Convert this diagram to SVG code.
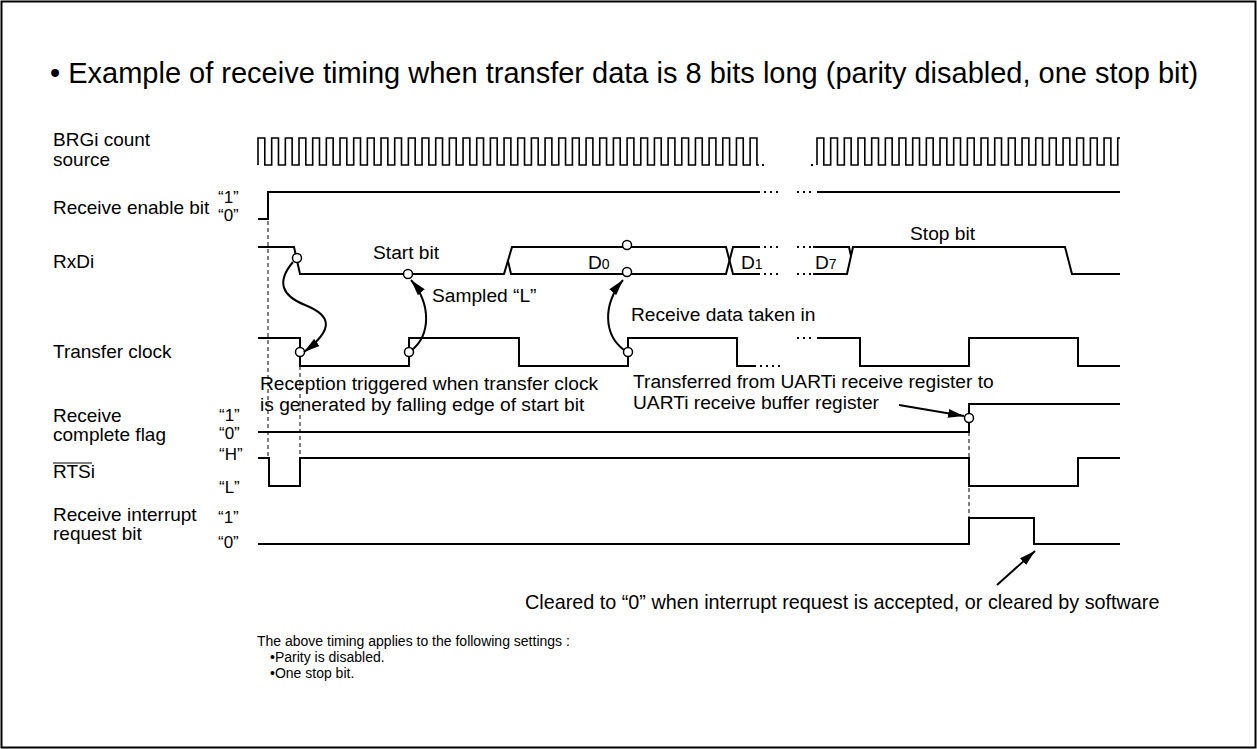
<svg xmlns="http://www.w3.org/2000/svg" width="1257" height="749" viewBox="0 0 1257 749">
<defs>
<marker id="ah" markerWidth="18" markerHeight="10" refX="16" refY="5" orient="auto" markerUnits="userSpaceOnUse" viewBox="0 0 18 10">
<path d="M0,0.5 L16,5 L0,9.5 Z" fill="#000"/>
</marker>
</defs>
<style>
text{font-family:"Liberation Sans",Arial,sans-serif;fill:#000}
.lb{font-size:19px}
.lv{font-size:17px}
.an{font-size:19.2px}
.nt{font-size:14px}
.w{fill:none;stroke:#000;stroke-width:2}
.ck{fill:none;stroke:#000;stroke-width:1.6}
.dt{fill:none;stroke:#000;stroke-width:2;stroke-dasharray:2 4}
.ds{fill:none;stroke:#000;stroke-width:1;stroke-dasharray:4 3}
.c{fill:#fff;stroke:#000;stroke-width:1.5}
.ar{fill:none;stroke:#000;stroke-width:2;marker-end:url(#ah)}
</style>
<rect x="1.5" y="1.5" width="1254" height="746" fill="#fff" stroke="#000" stroke-width="2"/>
<g id="title"><text x="50" y="83" font-size="29">• Example of receive timing when transfer data is 8 bits long (parity disabled, one stop bit)</text></g>

<g id="labels">
<text class="lb" x="53" y="146">BRGi count</text>
<text class="lb" x="53" y="166">source</text>
<text class="lb" x="53" y="214">Receive enable bit</text>
<text class="lv" x="218" y="203">“1”</text>
<text class="lv" x="218" y="221">“0”</text>
<text class="lb" x="53" y="268">RxDi</text>
<text class="lb" x="53" y="358">Transfer clock</text>
<text class="lb" x="53" y="422">Receive</text>
<text class="lb" x="53" y="441">complete flag</text>
<text class="lv" x="219" y="421">“1”</text>
<text class="lv" x="219" y="439">“0”</text>
<text class="lb" x="53" y="478">RTSi</text>
<line x1="53" y1="463" x2="92" y2="463" stroke="#000" stroke-width="1.2"/>
<text class="lv" x="219" y="460">“H”</text>
<text class="lv" x="219" y="493">“L”</text>
<text class="lb" x="53" y="521">Receive interrupt</text>
<text class="lb" x="53" y="540">request bit</text>
<text class="lv" x="218" y="523">“1”</text>
<text class="lv" x="218" y="548">“0”</text>
</g>

<g id="guides">
<line class="ds" x1="268" y1="221" x2="268" y2="458"/>
<line class="ds" x1="300" y1="366" x2="300" y2="458"/>
<line class="ds" x1="969" y1="418" x2="969" y2="518"/>
</g>

<g id="brg-clock">
<path class="ck" d="M258,165v-27h6.8v27h6.87v-27h6.8v27h6.87v-27h6.8v27h6.87v-27h6.8v27h6.87v-27h6.8v27h6.87v-27h6.8v27h6.87v-27h6.8v27h6.87v-27h6.8v27h6.87v-27h6.8v27h6.87v-27h6.8v27h6.87v-27h6.8v27h6.87v-27h6.8v27h6.87v-27h6.8v27h6.87v-27h6.8v27h6.87v-27h6.8v27h6.87v-27h6.8v27h6.87v-27h6.8v27h6.87v-27h6.8v27h6.87v-27h6.8v27h6.87v-27h6.8v27h6.87v-27h6.8v27h6.87v-27h6.8v27h6.87v-27h6.8v27h6.87v-27h6.8v27h6.87v-27h6.8v27h6.87v-27h6.8v27h6.87v-27h6.8v27h6.87v-27h6.8v27h6.87v-27h6.8v27h6.87v-27h6.8v27h6.87v-27h6.8v27h6.87v-27h6.8v27h6.87v-27h6.8v27h6.87v-27h6.8v27h6.87v-27h6.8v27h6.87v-27h6.8v27h6.87v-27h6.8v27h2"/>
<rect x="762" y="164" width="2" height="2" fill="#000"/>
<rect x="811" y="164" width="2" height="2" fill="#000"/>
<path class="ck" d="M817,165v-27h6.8v27h6.87v-27h6.8v27h6.87v-27h6.8v27h6.87v-27h6.8v27h6.87v-27h6.8v27h6.87v-27h6.8v27h6.87v-27h6.8v27h6.87v-27h6.8v27h6.87v-27h6.8v27h6.87v-27h6.8v27h6.87v-27h6.8v27h6.87v-27h6.8v27h6.87v-27h6.8v27h6.87v-27h6.8v27h6.87v-27h6.8v27h6.87v-27h6.8v27h6.87v-27h6.8v27h6.87v-27h6.8v27h6.87v-27h6.8v27h6.87v-27h6.8v27h6.87v-27h6.8v27h6.87v-27h6.8v27h6.87v-27h2.3"/>
</g>

<g id="receive-enable">
<path class="w" d="M258,219H268V192H760"/>
<path class="dt" d="M764,192H782M797,192H815"/>
<path class="w" d="M817,192H1120"/>
</g>

<g id="rxdi">
<path class="w" d="M258,247H294L300,274H504L512,247H726L733,274H760"/>
<path class="w" d="M508,261L511,274H726L733,247H760"/>
<path class="dt" d="M764,247H782M764,274H782M797,247H813M797,274H813"/>
<path class="w" d="M813,247H849L851,256M813,274H847L853,247H1065L1072,274H1120"/>
<text class="an" x="373" y="259">Start bit</text>
<text class="an" x="910" y="240">Stop bit</text>
<text class="an" x="588" y="269">D<tspan font-size="14">0</tspan></text>
<text class="an" x="741" y="269">D<tspan font-size="14">1</tspan></text>
<text class="an" x="815" y="269">D<tspan font-size="14">7</tspan></text>
<circle class="c" cx="297" cy="258" r="4.5"/>
<circle class="c" cx="408" cy="274" r="4.5"/>
<circle class="c" cx="627" cy="245" r="4.5"/>
<circle class="c" cx="627" cy="272" r="4.5"/>
</g>

<g id="transfer-clock">
<path class="w" d="M258,338H300V366H409V338H519V366H628V338H737V366H756"/>
<path class="dt" d="M760,366H782M797,338H815"/>
<path class="w" d="M817,338H860V366H969V338H1078V366H1120"/>
<circle class="c" cx="300" cy="352" r="4.5"/>
<circle class="c" cx="409" cy="352" r="4.5"/>
<circle class="c" cx="628" cy="352" r="4.5"/>
</g>

<g id="receive-complete-flag">
<path class="w" d="M258,432H969V404H1120"/>
<circle class="c" cx="969" cy="418" r="4.5"/>
</g>

<g id="rtsi">
<path class="w" d="M258,458H269V486H300V458H969V486H1078V458H1120"/>
</g>

<g id="receive-interrupt">
<path class="w" d="M258,544H969V518H1034V544H1120"/>
</g>

<g id="connectors">
<path class="ar" d="M293,262C276,282 282,296 305,305C330,315 336,328 304,352"/>
<path class="ar" d="M412,350C430,335 432,305 411,280"/>
<path class="ar" d="M624,350C604,335 602,305 623,280"/>
<path class="ar" d="M899,405L964,416"/>
<path class="ar" d="M997,585L1035,551"/>
</g>

<g id="annotations">
<text class="an" x="432" y="302">Sampled “L”</text>
<text class="an" x="631" y="321">Receive data taken in</text>
<text class="an" x="260" y="390">Reception triggered when transfer clock</text>
<text class="an" x="260" y="411">is generated by falling edge of start bit</text>
<text class="an" x="633" y="388">Transferred from UARTi receive register to</text>
<text class="an" x="633" y="409">UARTi receive buffer register</text>
<text x="525" y="609" font-size="19.8">Cleared to “0” when interrupt request is accepted, or cleared by software</text>
<text class="nt" x="257" y="646">The above timing applies to the following settings :</text>
<text class="nt" x="270" y="662">•Parity is disabled.</text>
<text class="nt" x="270" y="678">•One stop bit.</text>
</g>
</svg>
